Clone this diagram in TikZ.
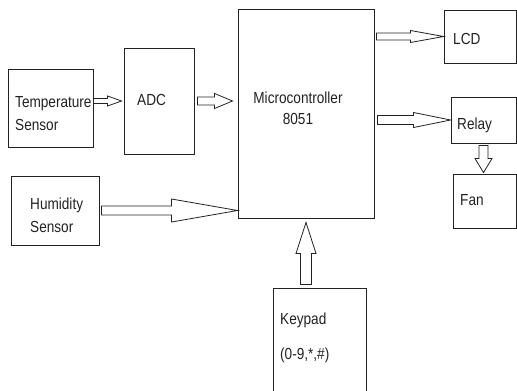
\documentclass[tikz,border=0pt]{standalone}
\usepackage{fontspec}
\setmainfont[FakeStretch=0.85]{Liberation Sans}
\usetikzlibrary{calc}
\definecolor{inkgray}{HTML}{222222}

\tikzset{
  blk/.style={draw=inkgray, line width=0.9pt, inner sep=0pt},
  lbl/.style={text=inkgray, inner sep=0pt, anchor=west, align=left},
  arr/.style={draw=inkgray, line width=0.8pt, line join=miter},
  hollow/.style n args={3}{to path={
    let \p1=(\tikztostart), \p2=(\tikztotarget), \p3=($(\p2)!#3!(\p1)$) in
    ($(\p1)!#1!90:(\p2)$) -- ($(\p3)!#1!-90:(\p1)$) -- ($(\p3)!#2!-90:(\p1)$) -- (\p2)
    -- ($(\p3)!#2!90:(\p1)$) -- ($(\p3)!#1!90:(\p1)$) -- ($(\p1)!#1!-90:(\p2)$) -- cycle}}
}

\begin{document}
\begin{tikzpicture}[x=1pt, y=-1pt, font=\fontsize{16}{23}\selectfont]
  \useasboundingbox (0,0) rectangle (517,391);
  \clip (0,0) rectangle (517,391);

  % blocks
  \node[blk, minimum width=85pt, minimum height=78pt] (tmp) at (50.5,108) {};
  \node[blk, minimum width=70pt, minimum height=106pt] (adc) at (159,101) {};
  \node[blk, minimum width=136pt, minimum height=209pt] (mc) at (306,113.5) {};
  \node[blk, minimum width=88pt, minimum height=69pt] (hum) at (55,210.5) {};
  \node[blk, minimum width=72pt, minimum height=53pt] (lcd) at (480,36.5) {};
  \node[blk, minimum width=65pt, minimum height=46pt] (relay) at (483.5,120) {};
  \node[blk, minimum width=63pt, minimum height=54pt] (fan) at (484.5,201) {};
  \node[blk, minimum width=93pt, minimum height=112pt] (kp) at (319.5,344) {};

  % labels
  \node[lbl] (tmptxt) at (15,113.5) {Temperature\\Sensor};
  \node[lbl] (adctxt) at (137,100) {ADC};
  \node[lbl, anchor=center, align=center, font=\fontsize{16}{21}\selectfont] (mctxt) at (298,108.5) {Microcontroller\\8051};
  \node[lbl] (humtxt) at (30,215.5) {Humidity\\Sensor};
  \node[lbl] (lcdtxt) at (453,39) {LCD};
  \node[lbl] (relaytxt) at (457,125) {Relay};
  \node[lbl] (fantxt) at (460,200) {Fan};
  \node[lbl] (kptxt) at (280,337.5) {Keypad\\[12pt](0-9,*,\#)};

  % hollow arrows
  \draw[arr] (tmp.east |- adc.west) to[hollow={2.5pt}{5pt}{14pt}] ([xshift=-2pt]adc.west);
  \draw[arr] ([xshift=3pt]adc.east) to[hollow={4pt}{7.5pt}{18pt}] ([xshift=-5pt]adc.east -| mc.west);
  \draw[arr] ([xshift=2pt]hum.east) to[hollow={4.5pt}{11.5pt}{66pt}] (hum.east -| mc.west);
  \draw[arr] ([xshift=2pt]lcd.west -| mc.east) to[hollow={3.5pt}{6pt}{33pt}] (lcd.west);
  \draw[arr] ([xshift=3pt]relay.west -| mc.east) to[hollow={4.5pt}{7.5pt}{37pt}] (relay.west);
  \draw[arr] ([yshift=-2pt]relay.south) to[hollow={4.5pt}{8.5pt}{14pt}] ([yshift=1pt]relay.south |- fan.north);
  \draw[arr] ([yshift=3pt]mc.south |- kp.north) to[hollow={5.5pt}{10pt}{31pt}] ([yshift=-4pt]mc.south);
\end{tikzpicture}
\end{document}
